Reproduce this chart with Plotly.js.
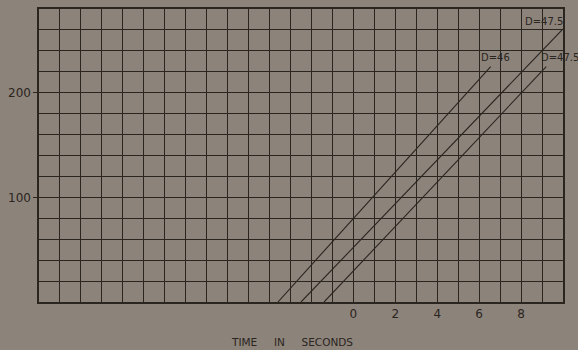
<!DOCTYPE html>
<html>
<head>
<meta charset="utf-8">
<script src="https://cdn.plot.ly/plotly-3.0.1.min.js"></script>
<style>
html,body{margin:0;padding:0;background:#8c837b;}
#chart{width:578px;height:350px;}
</style>
</head>
<body>
<div id="chart"></div>
<script>
// Data (x = time in seconds, y = value)
var lineNames = ["D=46", "D=47.5 (upper)", "D=47.5 (lower)"];
var line1X = [-3.6, 6.55];
var line1Y = [0, 225];
var line2X = [-2.5, 10];
var line2Y = [0, 261];
var line3X = [-1.4, 9.2];
var line3Y = [0, 225];
var xTickVals = [0, 2, 4, 6, 8];
var xTickText = ["0", "2", "4", "6", "8"];
var yTickVals = [100, 200];
var yTickText = ["100", "200"];
var labelTexts = ["D=47.5", "D=46", "D=47.5"];
var axisTitle = "TIME\u00a0\u00a0\u00a0\u00a0\u00a0IN\u00a0\u00a0\u00a0\u00a0\u00a0SECONDS";

var ink = "#2b2520";
var inkLine = {color: ink, width: 1.1};

var traces = [
  {x: line1X, y: line1Y, name: lineNames[0], mode: "lines", line: inkLine},
  {x: line2X, y: line2Y, name: lineNames[1], mode: "lines", line: inkLine},
  {x: line3X, y: line3Y, name: lineNames[2], mode: "lines", line: inkLine}
];

var fontFam = "DejaVu Sans, sans-serif";

var layout = {
  width: 578, height: 350,
  paper_bgcolor: "#8c837b",
  plot_bgcolor: "#8c837b",
  showlegend: false,
  margin: {l: 38.5, r: 15, t: 9, b: 48},
  font: {family: fontFam, color: ink, size: 12},
  xaxis: {
    range: [-15, 10],
    tickmode: "array",
    tickvals: xTickVals,
    ticktext: xTickText,
    ticks: "",
    showgrid: true, gridcolor: ink, gridwidth: 1,
    minor: {dtick: 1, tick0: 0, showgrid: true, gridcolor: ink, gridwidth: 1},
    showline: true, linecolor: ink, linewidth: 1.6, mirror: true,
    zeroline: false,
    tickfont: {family: fontFam, size: 12, color: ink}
  },
  yaxis: {
    range: [0, 280],
    tickmode: "array",
    tickvals: yTickVals,
    ticktext: yTickText,
    ticks: "outside", ticklen: 4, tickcolor: ink, tickwidth: 1,
    showgrid: true, gridcolor: ink, gridwidth: 1,
    minor: {dtick: 20, tick0: 0, showgrid: true, gridcolor: ink, gridwidth: 1},
    showline: true, linecolor: ink, linewidth: 1.6, mirror: true,
    zeroline: false,
    tickfont: {family: fontFam, size: 12, color: ink}
  },
  annotations: [
    {x: 9.1, y: 268, xref: "x", yref: "y", text: labelTexts[0], showarrow: false,
     font: {family: fontFam, size: 10, color: ink}},
    {x: 6.8, y: 234, xref: "x", yref: "y", text: labelTexts[1], showarrow: false,
     font: {family: fontFam, size: 10, color: ink}},
    {x: 9.85, y: 234, xref: "x", yref: "y", text: labelTexts[2], showarrow: false,
     font: {family: fontFam, size: 10, color: ink}},
    {x: 0.483, y: 0, xref: "paper", yref: "paper", yanchor: "middle", yshift: -40,
     text: axisTitle, showarrow: false,
     font: {family: fontFam, size: 10.5, color: ink}}
  ]
};

Plotly.newPlot("chart", traces, layout, {staticPlot: true, displayModeBar: false});
</script>
</body>
</html>
